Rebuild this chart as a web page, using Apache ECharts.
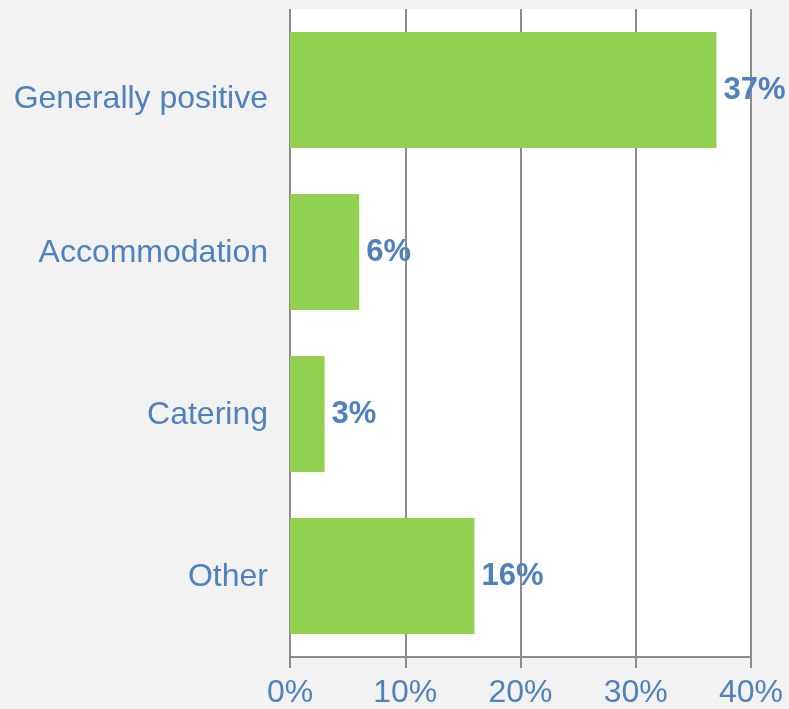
<!DOCTYPE html>
<html>
<head>
<meta charset="utf-8">
<script src="https://cdn.jsdelivr.net/npm/echarts@6/dist/echarts.min.js"></script>
<style>
  html, body { margin: 0; padding: 0; background: #f2f2f2; }
  #main { width: 789px; height: 709px; }
</style>
</head>
<body>
<div id="main"></div>
<script>
  // categories and values
  const categories = ['Generally positive', 'Accommodation', 'Catering', 'Other'];
  const shares = [37, 6, 3, 16];
  const axisTicks = [0, 10, 20, 30, 40];

  const textBlue = '#4f81bd';
  const lineGray = '#8c8c8c';
  const font = 'Liberation Sans, Arial, sans-serif';

  const option = {
    backgroundColor: '#f2f2f2',
    animation: false,
    grid: {
      left: 290,
      right: 38,
      top: 9,
      bottom: 51,
      show: true,
      backgroundColor: '#ffffff',
      borderWidth: 0
    },
    xAxis: {
      type: 'value',
      min: axisTicks[0],
      max: axisTicks[axisTicks.length - 1],
      interval: 10,
      axisLine: { show: true, lineStyle: { color: lineGray, width: 2 } },
      axisTick: { show: true, length: 11, lineStyle: { color: lineGray, width: 2 } },
      splitLine: { show: true, lineStyle: { color: lineGray, width: 2 } },
      axisLabel: {
        formatter: '{value}%',
        color: textBlue,
        fontFamily: font,
        fontSize: 32,
        margin: 20
      }
    },
    yAxis: {
      type: 'category',
      data: categories,
      inverse: true,
      axisLine: { show: false },
      axisTick: { show: false },
      axisLabel: {
        color: textBlue,
        fontFamily: font,
        fontSize: 32,
        margin: 22,
        // the first label sits lower than its bar in the original
        formatter: (name, i) => (i === 0 ? '{low|' + name + '}' : '{std|' + name + '}'),
        rich: {
          low: { fontSize: 32, fontFamily: font, color: textBlue, padding: [18, 0, 0, 0] },
          std: { fontSize: 32, fontFamily: font, color: textBlue, padding: [3, 0, 0, 0] }
        }
      }
    },
    series: [
      {
        type: 'bar',
        data: shares,
        barWidth: '71.5%',
        itemStyle: { color: '#92d050' },
        label: {
          show: true,
          position: 'right',
          distance: 7,
          formatter: '{c}%',
          color: textBlue,
          fontFamily: font,
          fontWeight: 'bold',
          fontSize: 31
        }
      }
    ]
  };

  const myChart = echarts.init(document.getElementById('main'));
  myChart.setOption(option);
</script>
</body>
</html>
